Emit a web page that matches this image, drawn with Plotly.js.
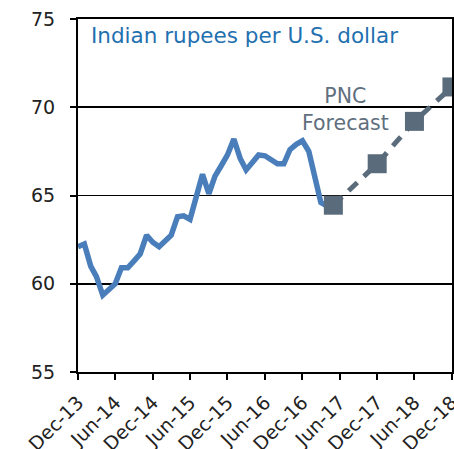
<!DOCTYPE html>
<html>
<head>
<meta charset="utf-8">
<script src="https://cdn.plot.ly/plotly-3.0.1.min.js"></script>
<style>html,body{margin:0;padding:0;background:#fff;}#chart{width:454px;height:449px;}</style>
</head>
<body>
<div id="chart"></div>
<script>
// Actual monthly exchange rate (INR per USD)
const actualDates = [
  "2013-12-01","2014-01-01","2014-02-01","2014-03-01","2014-04-01","2014-05-01","2014-06-01",
  "2014-07-01","2014-08-01","2014-09-01","2014-10-01","2014-11-01","2014-12-01",
  "2015-01-01","2015-02-01","2015-03-01","2015-04-01","2015-05-01","2015-06-01",
  "2015-07-01","2015-08-01","2015-09-01","2015-10-01","2015-11-01","2015-12-01",
  "2016-01-01","2016-02-01","2016-03-01","2016-04-01","2016-05-01","2016-06-01",
  "2016-07-01","2016-08-01","2016-09-01","2016-10-01","2016-11-01","2016-12-01",
  "2017-01-01","2017-02-01","2017-03-01","2017-04-01"
];
const actualValues = [
  62.1, 62.25, 61.0, 60.4, 59.35, 59.7, 60.0,
  60.9, 60.9, 61.3, 61.7, 62.75, 62.35,
  62.1, 62.4, 62.75, 63.8, 63.85, 63.65,
  64.9, 66.2, 65.1, 66.1, 66.7, 67.3,
  68.2, 67.1, 66.45, 66.9, 67.3, 67.25,
  67.0, 66.8, 66.8, 67.6, 67.9, 68.1,
  67.5, 65.9, 64.6, 64.4
];
// PNC forecast
const forecastDates = ["2017-05-01","2017-12-01","2018-06-01","2018-12-01"];
const forecastValues = [64.45, 66.8, 69.2, 71.15];

// Axis ticks
const xTickVals = ["2013-12-01","2014-06-01","2014-12-01","2015-06-01","2015-12-01","2016-06-01",
                   "2016-12-01","2017-06-01","2017-12-01","2018-06-01","2018-12-01"];
const xTickText = ["Dec-13","Jun-14","Dec-14","Jun-15","Dec-15","Jun-16",
                   "Dec-16","Jun-17","Dec-17","Jun-18","Dec-18"];
const yTickVals = [55, 60, 65, 70, 75];

const titleText = "Indian rupees per U.S. dollar";
const forecastLabel = "PNC<br>Forecast";

const FONT = "DejaVu Sans, Verdana, sans-serif";

const traces = [
  {
    x: actualDates, y: actualValues, type: "scatter", mode: "lines",
    line: {color: "#4a7ebb", width: 5.5}, hoverinfo: "skip", showlegend: false
  },
  {
    x: forecastDates, y: forecastValues, type: "scatter", mode: "lines+markers",
    line: {color: "#5a6c7c", width: 5, dash: "12px,9px"},
    marker: {symbol: "square", size: 19, color: "#5a6c7c"},
    hoverinfo: "skip", showlegend: false
  }
];

const layout = {
  width: 454, height: 449,
  margin: {l: 78, r: 2, t: 19, b: 77, pad: 0},
  paper_bgcolor: "#fff", plot_bgcolor: "#fff",
  font: {family: FONT, size: 19, color: "#222"},
  xaxis: {
    type: "date",
    range: ["2013-12-01", "2018-12-01 08:00"],
    tickmode: "array", tickvals: xTickVals, ticktext: xTickText,
    tickangle: -45,
    ticklabeloverflow: "allow",
    ticklabelstandoff: 4,
    ticks: "outside", ticklen: 6, tickwidth: 2, tickcolor: "#000",
    showgrid: false, zeroline: false,
    showline: true, linecolor: "#000", linewidth: 2, mirror: true,
    tickfont: {family: FONT, size: 19, color: "#222"}
  },
  yaxis: {
    range: [55, 75],
    tickmode: "array", tickvals: yTickVals,
    ticks: "outside", ticklen: 6, tickwidth: 2, tickcolor: "#000",
    ticklabelstandoff: 11,
    showgrid: true, gridcolor: "#000", gridwidth: 1.6,
    zeroline: false,
    showline: true, linecolor: "#000", linewidth: 2, mirror: true,
    tickfont: {family: FONT, size: 19, color: "#222"}
  },
  annotations: [
    {
      text: titleText, xref: "paper", yref: "paper",
      x: 0.03, y: 0.995, xanchor: "left", yanchor: "top", showarrow: false,
      font: {family: FONT, size: 21.5, color: "#1f70b0"}
    },
    {
      text: forecastLabel, xref: "x", yref: "y",
      x: "2017-06-28", y: 69.9, xanchor: "center", yanchor: "middle", showarrow: false,
      font: {family: FONT, size: 20.5, color: "#5f6f7e"}
    }
  ]
};

Plotly.newPlot("chart", traces, layout, {displayModeBar: false, staticPlot: true});
</script>
</body>
</html>
